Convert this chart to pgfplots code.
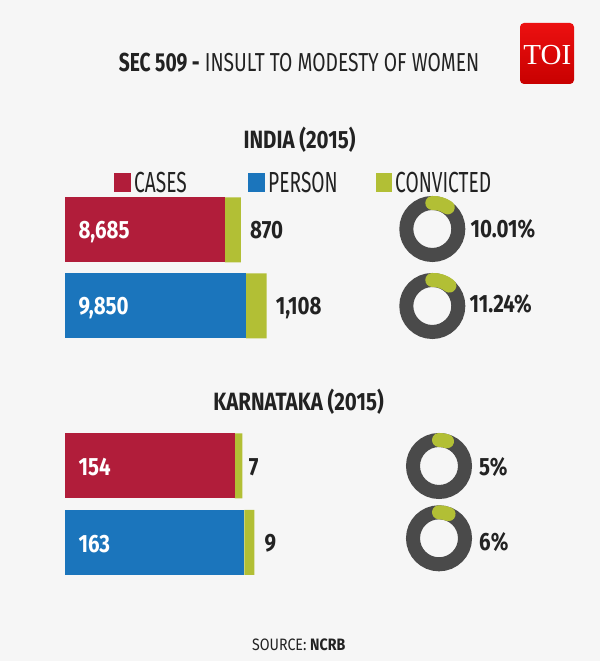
\documentclass[border=0pt]{standalone}
\usepackage{pgfplots}
\pgfplotsset{compat=1.18}
\usepackage{fontspec}
\setmainfont{Fira Sans}[FakeStretch=0.74]
\newfontfamily\numfont{Fira Sans}[FakeStretch=0.82]
\newfontfamily\legendfont{Fira Sans}[FakeStretch=0.66]
\newfontfamily\srcfont{Fira Sans}[FakeStretch=0.86]
\newfontfamily\toifont{Liberation Serif}
\definecolor{bg}{HTML}{F6F6F6}
\definecolor{cred}{HTML}{B11D3A}
\definecolor{cblue}{HTML}{1B75BC}
\definecolor{cgreen}{HTML}{B2BF35}
\definecolor{cring}{HTML}{4A4A4A}
\definecolor{ctext}{HTML}{222222}
\definecolor{toitop}{HTML}{EC1010}
\definecolor{toibot}{HTML}{C80000}
\pgfplotsset{canvas/.style={at={(0,0)}, anchor=south west, scale only axis, width=600pt, height=661pt,
  hide axis, clip=false, enlargelimits=false}}
\newcommand{\bignum}{\numfont\bfseries\fontsize{25}{30}\selectfont}
\begin{document}
\begin{tikzpicture}[x=1pt,y=1pt]
\fill[bg] (0,0) rectangle (600,661);
\path[use as bounding box] (0,0) rectangle (600,661);
% logo
\shade[top color=toitop, bottom color=toibot, rounded corners=4pt] (520,577) rectangle (574,638);
\node[text=white, font=\toifont\fontsize{29}{30}\selectfont, inner sep=0, anchor=base] at (547.3,596.6) {TOI};
% title
\node[anchor=base, inner sep=0, text=ctext, font=\fontsize{26}{30}\selectfont] at (299,589.3) {\textbf{SEC 509 -} INSULT TO MODESTY OF WOMEN};
% headings
\node[anchor=base, inner sep=0, text=ctext, font=\bignum] at (299.5,512.8) {INDIA (2015)};
\node[anchor=base, inner sep=0, text=ctext, font=\bignum] at (298.5,250) {KARNATAKA (2015)};
% legend
\fill[cred] (113.7,469) rectangle (130.9,488);
\node[anchor=base west, inner sep=0, text=ctext, font=\legendfont\fontsize{29}{30}\selectfont] at (134,468) {CASES};
\fill[cblue] (248,469) rectangle (264.8,488);
\node[anchor=base west, inner sep=0, text=ctext, font=\legendfont\fontsize{29}{30}\selectfont] at (268,468) {PERSON};
\fill[cgreen] (375.8,469) rectangle (392.3,488);
\node[anchor=base west, inner sep=0, text=ctext, font=\legendfont\fontsize{29}{30}\selectfont] at (395,468) {CONVICTED};
% source
\node[anchor=base, inner sep=0, text=ctext, font=\srcfont\fontsize{16.5}{20}\selectfont] at (298.7,10.3) {SOURCE: \textbf{NCRB}};

% India bars
\begin{axis}[canvas, xmin=-3532.6, xmax=29076.1, ymin=-4.6737, ymax=4.0237, xbar stacked, bar width=65pt]
\addplot[fill=cred, draw=none] coordinates {(8685,1) (0,0)};
\addplot[fill=cblue, draw=none] coordinates {(0,1) (9850,0)};
\addplot[fill=cgreen, draw=none] coordinates {(870,1) (1108,0)};
\end{axis}

% Karnataka bars
\begin{axis}[canvas, xmin=-59.04, xmax=485.92, ymin=-1.5450, ymax=7.0730, xbar stacked, bar width=65pt]
\addplot[fill=cred, draw=none] coordinates {(154,1) (0,0)};
\addplot[fill=cblue, draw=none] coordinates {(0,1) (163,0)};
\addplot[fill=cgreen, draw=none] coordinates {(7,1) (9,0)};
\end{axis}

% donut rings
\begin{axis}[canvas, xmin=0, xmax=600, ymin=0, ymax=661]
\addplot[only marks, color=cring, mark=o, mark size=26pt, mark options={line width=14pt, draw=cring}]
  coordinates {(432.3,432) (432.3,355) (439,195) (439,122.7)};
\node[anchor=base west, inner sep=0, text=ctext, font=\bignum] at (axis cs:470.5,423) {10.01\%};
\node[anchor=base west, inner sep=0, text=ctext, font=\bignum] at (axis cs:469.5,348) {11.24\%};
\node[anchor=base west, inner sep=0, text=ctext, font=\bignum] at (axis cs:479,185.3) {5\%};
\node[anchor=base west, inner sep=0, text=ctext, font=\bignum] at (axis cs:479,110) {6\%};
\end{axis}

% foreground: convicted share arcs and value labels
\begin{axis}[canvas, xmin=0, xmax=600, ymin=0, ymax=661]
\draw[cgreen, line width=14pt, line cap=round] (axis cs:432.3,458) arc[start angle=92, delta angle=-36.04, radius=26pt];
\draw[cgreen, line width=14pt, line cap=round] (axis cs:432.3,381) arc[start angle=92, delta angle=-40.46, radius=26pt];
\draw[cgreen, line width=14pt, line cap=round] (axis cs:439,221) arc[start angle=90, delta angle=-18, radius=26pt];
\draw[cgreen, line width=14pt, line cap=round] (axis cs:439,148.7) arc[start angle=90, delta angle=-21.6, radius=26pt];
\node[anchor=base west, inner sep=0, text=white, font=\bignum] at (axis cs:78.3,422) {8,685};
\node[anchor=base west, inner sep=0, text=white, font=\bignum] at (axis cs:78.3,346.2) {9,850};
\node[anchor=base west, inner sep=0, text=white, font=\bignum] at (axis cs:78.3,185.2) {154};
\node[anchor=base west, inner sep=0, text=white, font=\bignum] at (axis cs:78.3,108.7) {163};
\node[anchor=base west, inner sep=0, text=ctext, font=\bignum] at (axis cs:250,422) {870};
\node[anchor=base west, inner sep=0, text=ctext, font=\bignum] at (axis cs:275.6,346.5) {1,108};
\node[anchor=base west, inner sep=0, text=ctext, font=\bignum] at (axis cs:248.7,185.2) {7};
\node[anchor=base west, inner sep=0, text=ctext, font=\bignum] at (axis cs:264.3,109.3) {9};
\end{axis}
\end{tikzpicture}
\end{document}
